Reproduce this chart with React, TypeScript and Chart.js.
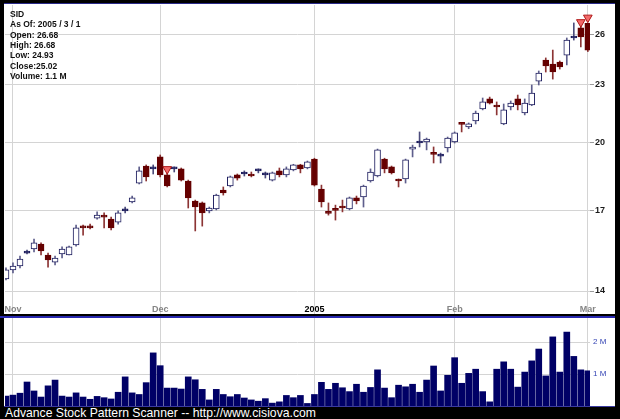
import React, { useEffect, useRef } from 'react';
import { Chart, registerables } from 'chart.js';

Chart.register(...registerables);

const dates = [
  '10/29',
  '11/01', '11/02', '11/03', '11/04', '11/05', '11/08', '11/09', '11/10', '11/11', '11/12',
  '11/15', '11/16', '11/17', '11/18', '11/19', '11/22', '11/23', '11/24', '11/26', '11/29', '11/30',
  '12/01', '12/02', '12/03', '12/06', '12/07', '12/08', '12/09', '12/10', '12/13', '12/14', '12/15',
  '12/16', '12/17', '12/20', '12/21', '12/22', '12/23', '12/27', '12/28', '12/29', '12/30', '12/31',
  '01/03', '01/04', '01/05', '01/06', '01/07', '01/10', '01/11', '01/12', '01/13', '01/14',
  '01/18', '01/19', '01/20', '01/21', '01/24', '01/25', '01/26', '01/27', '01/28', '01/31',
  '02/01', '02/02', '02/03', '02/04', '02/07', '02/08', '02/09', '02/10', '02/11', '02/14',
  '02/15', '02/16', '02/17', '02/18', '02/22', '02/23', '02/24', '02/25', '02/28',
  '03/01',
];
const open = [14.41,14.73,14.87,15.34,15.49,15.68,15.27,15.01,15.31,15.27,15.64,16.37,16.37,16.69,16.81,16.65,16.53,16.98,17.35,18.16,18.92,18.79,19.34,18.52,18.79,18.79,18.25,17.39,17.31,16.98,17.06,17.86,18.03,18.52,18.56,18.56,18.70,18.52,18.29,18.70,18.52,18.74,18.97,18.83,19.24,17.90,16.92,17.04,17.18,17.06,17.52,17.56,18.25,18.47,19.24,18.88,18.30,18.34,19.71,20.00,20.05,19.53,19.38,19.76,20.05,20.96,20.79,21.09,21.71,22.24,21.92,20.94,21.81,22.24,21.50,21.92,23.22,24.43,24.19,24.31,24.72,25.76,26.39,26.68];
const high = [14.80,14.98,15.23,15.45,15.87,15.72,15.34,15.23,15.57,15.60,16.41,16.41,16.45,16.94,16.90,16.73,16.98,17.14,17.60,18.88,18.97,18.97,19.43,18.65,18.88,18.83,18.29,17.43,17.35,17.14,17.68,17.99,18.47,18.56,18.70,18.65,18.79,18.65,18.65,18.83,18.88,19.00,19.00,19.15,19.28,18.07,17.31,17.22,17.43,17.56,17.60,18.07,18.79,19.71,19.28,18.92,18.34,19.24,19.90,20.54,20.24,19.81,19.52,20.29,20.54,20.99,20.99,21.60,22.29,22.34,22.08,21.97,22.13,22.45,22.24,23.00,23.79,24.55,25.02,24.37,25.76,26.71,26.77,26.68];
const low = [14.38,14.62,14.80,15.31,15.38,15.27,14.83,14.91,15.16,15.27,15.60,16.02,16.26,16.65,16.30,16.22,16.45,16.90,17.31,18.12,18.25,18.56,18.43,17.99,18.65,18.25,17.10,16.18,16.37,16.90,17.02,17.64,17.99,18.29,18.47,18.43,18.61,18.38,18.25,18.43,18.43,18.70,18.61,18.79,18.03,17.14,16.81,16.61,16.94,17.02,17.27,17.14,18.20,18.43,18.61,18.56,17.99,18.16,19.34,19.81,19.67,19.06,19.06,19.57,20.00,20.54,20.70,20.94,21.66,21.97,21.40,20.90,21.66,21.66,21.40,21.88,23.00,23.73,23.33,23.90,24.14,25.63,25.21,24.93];
const close = [14.73,14.87,15.12,15.34,15.72,15.42,15.09,15.16,15.49,15.57,16.30,16.30,16.30,16.81,16.73,16.30,16.90,16.98,17.52,18.70,18.43,18.79,18.52,18.03,18.79,18.29,17.52,17.14,16.90,17.10,17.64,17.73,18.43,18.38,18.56,18.47,18.70,18.52,18.61,18.52,18.79,18.97,18.79,19.11,18.07,17.35,16.88,17.00,17.10,17.52,17.39,18.03,18.65,19.67,18.79,18.61,18.25,19.20,19.81,20.00,20.19,19.46,19.38,20.24,20.49,20.92,20.94,21.50,22.08,22.02,21.81,21.66,22.02,21.92,22.02,22.56,23.67,24.08,23.73,24.02,25.63,25.76,25.82,25.02];
const volume = [0.31,0.34,0.40,0.75,0.47,0.28,0.63,0.81,0.31,0.28,0.41,0.28,0.21,0.30,0.26,0.22,0.43,0.91,0.41,0.36,0.73,1.66,1.26,0.56,0.56,0.53,0.91,0.82,0.52,0.19,0.52,0.36,0.29,0.36,0.25,0.19,0.15,0.23,0.09,0.13,0.33,0.26,0.33,0.08,0.36,0.74,0.52,0.71,0.57,0.45,0.68,0.43,0.58,1.13,0.56,0.26,0.65,0.60,0.68,0.43,0.81,1.25,0.47,0.96,1.51,0.71,1.02,1.15,0.45,0.13,1.15,1.38,1.15,0.59,1.06,1.41,1.78,0.94,2.16,1.06,2.31,1.55,1.13,1.10];

const priceTicks = [14, 17, 20, 23, 26];
const volumeTicks = [1, 2];
const monthTickDates = ['11/01', '12/01', '01/03', '02/01', '03/01'];
const monthTickLabels = ['Nov', 'Dec', '2005', 'Feb', 'Mar'];
const markerDates = ['12/02', '02/28', '03/01'];

const infoLines = ['SID','As Of: 2005 / 3 / 1','Open: 26.68','High: 26.68','Low: 24.93','Close:25.02','Volume: 1.1 M'];
const caption = 'Advance Stock Pattern Scanner -- http://www.cisiova.com';

const X_MIN = -0.14;
const X_MAX = 83.31;
const P_MIN = 13.7;
const P_MAX = 27.89;
const V_MAX = 2.75;

const NAVY = '#1c1c5e';
const DOWN = '#650000';
const GRID = '#d4d4d4';
const FONT = '"Liberation Sans", Arial, sans-serif';

export default function App() {
  const priceRef = useRef<HTMLCanvasElement | null>(null);
  const volRef = useRef<HTMLCanvasElement | null>(null);

  useEffect(() => {
    const tickIdx = monthTickDates.map((d) => dates.indexOf(d));
    const bodies = dates.map((_, k) => ({ x: k, y: [open[k], close[k]] }));
    const wicks = dates.map((_, k) => ({ x: k, y: [low[k], high[k]] }));
    const bodyFill = dates.map((_, k) => (close[k] > open[k] ? '#ffffff' : close[k] < open[k] ? DOWN : NAVY));
    const bodyBorder = dates.map((_, k) => (close[k] < open[k] ? DOWN : NAVY));
    const wickColor = dates.map((_, k) => (close[k] > open[k] ? '#5e5e8c' : close[k] < open[k] ? '#8c3434' : '#4c4c7c'));
    const markers = markerDates.map((d) => {
      const k = dates.indexOf(d);
      return { x: k, y: Math.max(open[k], close[k]) * 1.014 };
    });

    const xScaleBase = (showLabels: boolean) => ({
      type: 'linear' as const,
      min: X_MIN,
      max: X_MAX,
      offset: false,
      border: { display: false },
      grid: { color: GRID, offset: false, drawTicks: showLabels, tickLength: showLabels ? 14 : 0, tickColor: GRID },
      ticks: {
        display: showLabels,
        autoSkip: false,
        maxRotation: 0,
        padding: -10,
        font: { family: FONT, size: 9, weight: 'bold' as const },
        color: (c: any) => (c.index === 2 ? '#000000' : '#858585'),
        callback: (_v: any, i: number) => monthTickLabels[i],
      },
      afterBuildTicks: (s: any) => { s.ticks = tickIdx.map((v) => ({ value: v })); },
      afterFit: (s: any) => { s.height = showLabels ? 14 : 0; s.paddingLeft = 0; s.paddingRight = 0; },
    });

    const price = new Chart(priceRef.current!, {
      type: 'bar',
      data: {
        datasets: [
          { type: 'line', data: markers, showLine: false, pointStyle: 'triangle', pointRotation: 180, pointRadius: 5,
            pointBackgroundColor: '#f26a6a', pointBorderColor: '#b01818', pointBorderWidth: 1, clip: false, order: 0 } as any,
          { type: 'bar', data: bodies as any, backgroundColor: bodyFill, borderColor: bodyBorder, borderWidth: 1,
            borderSkipped: false, barThickness: 6, minBarLength: 2, grouped: false, order: 1 } as any,
          { type: 'bar', data: wicks as any, backgroundColor: wickColor, borderWidth: 0, barThickness: 1, grouped: false, order: 2 } as any,
        ],
      },
      options: {
        animation: false, responsive: false, maintainAspectRatio: false, events: [],
        layout: { autoPadding: false, padding: { left: 1, top: 1, right: 0, bottom: 0 } },
        plugins: { legend: { display: false }, tooltip: { enabled: false } },
        scales: {
          x: xScaleBase(true) as any,
          y: {
            type: 'logarithmic', position: 'right', min: P_MIN, max: P_MAX,
            border: { display: false },
            grid: { color: GRID, tickLength: 4, tickColor: '#9a9a9a' },
            ticks: { padding: 1, font: { family: FONT, size: 9, weight: 'bold' }, color: '#1a1a1a', callback: (v: any) => String(v) },
            afterBuildTicks: (s: any) => { s.ticks = priceTicks.map((v) => ({ value: v })); },
            afterFit: (s: any) => { s.width = 25; s.paddingTop = 0; s.paddingBottom = 0; },
          } as any,
        },
      } as any,
    });

    const vol = new Chart(volRef.current!, {
      type: 'bar',
      data: { datasets: [{ data: dates.map((_, k) => ({ x: k, y: volume[k] })) as any, backgroundColor: '#000066', borderWidth: 0, barThickness: 6, grouped: false }] },
      options: {
        animation: false, responsive: false, maintainAspectRatio: false, events: [],
        layout: { autoPadding: false, padding: { left: 1, top: 0, right: 0, bottom: 0 } },
        plugins: { legend: { display: false }, tooltip: { enabled: false } },
        scales: {
          x: xScaleBase(false) as any,
          y: {
            type: 'linear', position: 'right', min: 0, max: V_MAX,
            border: { display: false },
            grid: { color: GRID, drawTicks: false, tickLength: 0 },
            ticks: { padding: 3, font: { family: FONT, size: 8 }, color: '#3444b4', callback: (v: any) => `${v} M` },
            afterBuildTicks: (s: any) => { s.ticks = volumeTicks.map((v) => ({ value: v })); },
            afterFit: (s: any) => { s.width = 25; s.paddingTop = 0; s.paddingBottom = 0; },
          } as any,
        },
      } as any,
    });

    return () => { price.destroy(); vol.destroy(); };
  }, []);

  return (
    <div style={{ position: 'absolute', left: 0, top: 0, width: 620, height: 419, background: '#000', overflow: 'hidden', fontFamily: FONT }}>
      <div style={{ position: 'absolute', left: 4, top: 3, width: 611, height: 311, background: '#fff', borderTop: '1px solid #2a2a8a', boxSizing: 'border-box' }} />
      <canvas ref={priceRef} width={611} height={310} style={{ position: 'absolute', left: 4, top: 4, width: 611, height: 310 }} />
      <div style={{ position: 'absolute', left: 0, top: 316, width: 615, height: 2, background: '#2828b0' }} />
      <div style={{ position: 'absolute', left: 4, top: 318, width: 611, height: 88, background: '#fff' }} />
      <canvas ref={volRef} width={611} height={88} style={{ position: 'absolute', left: 4, top: 318, width: 611, height: 88 }} />
      <div style={{ position: 'absolute', left: 4, top: 406, width: 611, height: 1, background: '#3a3aa0' }} />
      <div style={{ position: 'absolute', left: 10, top: 9 }}>
        {infoLines.map((t, i) => (
          <div key={i} style={{ fontSize: 8.5, fontWeight: 'bold', lineHeight: '10.33px', height: 10.33, color: '#111', whiteSpace: 'pre' }}>{t}</div>
        ))}
      </div>
      <div style={{ position: 'absolute', left: 5, top: 406, fontSize: 12.2, lineHeight: '14px', color: '#fff', whiteSpace: 'pre' }}>{caption}</div>
    </div>
  );
}
